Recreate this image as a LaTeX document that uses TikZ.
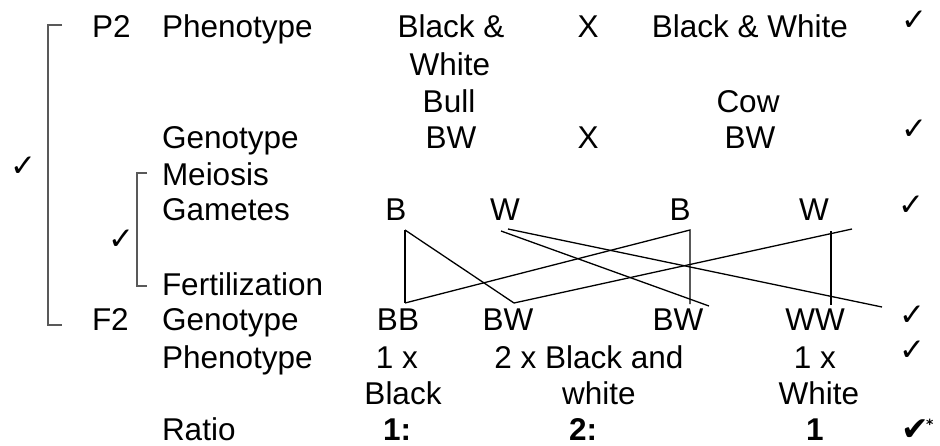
\documentclass[tikz,border=0pt]{standalone}
\usepackage{fontspec}
\setmainfont{Liberation Sans}
\newfontfamily\symfont{DejaVu Sans}
\begin{document}
\begin{tikzpicture}[x=1pt,y=-1pt,
  every node/.style={inner sep=0pt, outer sep=0pt, font=\fontsize{31.5}{38}\selectfont},
  lbl/.style={anchor=base west},
  cell/.style={anchor=base},
  boldcell/.style={anchor=base, font=\fontsize{31.5}{38}\selectfont\bfseries},
  tick/.style={anchor=center, font=\symfont\fontsize{31}{34}\selectfont},
  bigtick/.style={anchor=base west, font=\symfont\bfseries\fontsize{33}{36}\selectfont},
  star/.style={anchor=north west, font=\symfont\bfseries\fontsize{14}{16}\selectfont},
  brace/.style={draw=black!65, line width=2pt},
  cross/.style={draw=black, line width=1.3pt}]
\useasboundingbox (0,0) rectangle (940,445);

% parental generation
\node[lbl] (p2) at (92,37) {P2};
\node[lbl] (phen1) at (162,37) {Phenotype};
\node[cell] (bulla) at (451,37) {Black \&};
\node[cell] (xa) at (588,37) {X};
\node[cell] (cowa) at (750,37) {Black \& White};
\node[tick] (t1) at (914,21) {✓};
\node[cell] (bullb) at (450,75) {White};
\node[cell] (bullc) at (449,112) {Bull};
\node[cell] (cowc) at (748,112) {Cow};
\node[lbl] (gen1) at (162,148) {Genotype};
\node[cell] (pbw1) at (451,148) {BW};
\node[cell] (xb) at (588,148) {X};
\node[cell] (pbw2) at (750,148) {BW};
\node[tick] (t2) at (914,130) {✓};

% gametes
\node[lbl] (mei) at (162,185) {Meiosis};
\node[lbl] (gam) at (162,220) {Gametes};
\node[cell] (gB1) at (396,220) {B};
\node[cell] (gW1) at (505,220) {W};
\node[cell] (gB2) at (680,220) {B};
\node[cell] (gW2) at (814,220) {W};
\node[tick] (t3) at (911,206) {✓};
\node[lbl] (fert) at (162,295) {Fertilization};

% offspring
\node[lbl] (f2) at (92,330) {F2};
\node[lbl] (gen2) at (162,330) {Genotype};
\node[cell] (oBB) at (398,330) {BB};
\node[cell] (oBW1) at (508,330) {BW};
\node[cell] (oBW2) at (678,330) {BW};
\node[cell] (oWW) at (815,330) {WW};
\node[tick] (t4) at (912,316) {✓};
\node[lbl] (phen2) at (162,368) {Phenotype};
\node[cell] (na) at (397,368) {1 x};
\node[cell] (nb) at (589,368) {2 x Black and};
\node[cell] (nc) at (815,368) {1 x};
\node[tick] (t5) at (912,351) {✓};
\node[cell] (ca) at (403,404) {Black};
\node[cell] (cb) at (599,404) {white};
\node[cell] (cc) at (819,404) {White};
\node[lbl] (rat) at (162,440) {Ratio};
\node[boldcell] (ra) at (397,440) {1:};
\node[boldcell] (rb) at (583,440) {2:};
\node[boldcell] (rc) at (815,440) {1};
\node[bigtick] (t6) at (901,440) {✔};
\node[star] (t6s) at (926,419) {*};

% side ticks
\node[tick] (tl) at (23,167) {✓};
\node[tick] (ti) at (121,240) {✓};

% brackets
\coordinate (oa) at (62,25);
\coordinate (ob) at (48,25);
\coordinate (oc) at (48,325);
\coordinate (od) at (62,325);
\draw[brace] (oa) -- (ob) -- (oc) -- (od);
\coordinate (ia) at (147,173);
\coordinate (ib) at (137,173);
\coordinate (ic) at (137,286);
\coordinate (id) at (147,286);
\draw[brace] (ia) -- (ib) -- (ic) -- (id);

% crossing lines between gametes and offspring
\coordinate (b1f) at (405,230);
\coordinate (bbt) at (405,303);
\coordinate (bw1t) at (514,303);
\coordinate (w1fa) at (501,231);
\coordinate (w1fb) at (508,229);
\coordinate (bw2e) at (709,306);
\coordinate (wwe) at (882,307);
\coordinate (b2f) at (690,230);
\coordinate (bw2t) at (690,304);
\coordinate (w2f) at (831,231);
\coordinate (wwt) at (831,305);
\coordinate (w2e) at (852,229);
\draw[cross] (b1f) -- (bbt);
\draw[cross] (b1f) -- (bw1t);
\draw[cross] (w1fa) -- (bw2e);
\draw[cross] (w1fb) -- (wwe);
\draw[cross] (bbt) -- (b2f) -- (bw2t);
\draw[cross] (w2f) -- (wwt);
\draw[cross] (bw1t) -- (w2e);
\end{tikzpicture}
\end{document}
